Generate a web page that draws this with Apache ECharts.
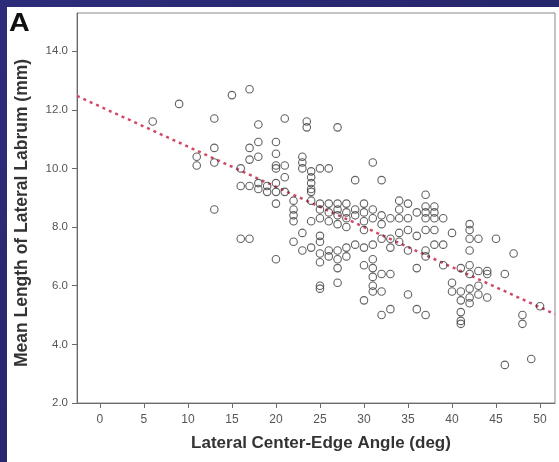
<!DOCTYPE html>
<html>
<head>
<meta charset="utf-8">
<script src="https://cdn.jsdelivr.net/npm/echarts@6/dist/echarts.min.js"></script>
<style>
  html, body { margin: 0; padding: 0; }
  #wrap { position: relative; width: 559px; height: 462px; background: linear-gradient(135deg, #2d2c7a 0%, #25256a 60%, #2b2a74 100%); overflow: hidden; }
  #panel { position: absolute; left: 7px; top: 7px; width: 552px; height: 455px; background: #ffffff; }
  #chart { position: absolute; left: 0; top: 0; width: 559px; height: 462px; }
</style>
</head>
<body>
<div id="wrap"><div id="panel"></div><div id="chart"></div></div>
<script>
// Lateral center-edge angle (deg) for each subject
const angle = [
  6, 9, 11, 11,
  13, 13, 13, 13,
  15,
  16, 16, 16,
  17, 17, 17, 17, 17,
  18, 18, 18, 18, 18,
  19, 19,
  20, 20, 20, 20, 20, 20, 20, 20,
  21, 21, 21, 21,
  22, 22, 22, 22, 22,
  23, 23, 23, 23, 23,
  23.5, 23.5,
  24, 24, 24, 24, 24, 24, 24, 24,
  25, 25, 25, 25, 25, 25, 25, 25, 25, 25,
  26, 26, 26, 26, 26, 26,
  27, 27, 27, 27, 27, 27, 27, 27, 27,
  28, 28, 28, 28, 28, 28,
  29, 29, 29, 29,
  30, 30, 30, 30, 30, 30, 30,
  31, 31, 31, 31, 31, 31, 31, 31, 31,
  32, 32, 32, 32, 32, 32, 32,
  33, 33, 33, 33, 33,
  34, 34, 34, 34, 34,
  35, 35, 35, 35, 35,
  36, 36, 36, 36,
  37, 37, 37, 37, 37, 37, 37, 37,
  38, 38, 38, 38, 38,
  39, 39, 39,
  40, 40, 40,
  41, 41, 41, 41, 41, 41,
  42, 42, 42, 42, 42, 42, 42, 42, 42,
  43, 43, 43, 43,
  44, 44, 44,
  45,
  46, 46,
  47,
  48, 48,
  49,
  50
];
// Mean length of lateral labrum (mm) for each subject
const labrum = [
  11.6, 12.2, 10.4, 10.1,
  11.7, 10.7, 10.2, 8.6,
  12.5,
  10.0, 9.4, 7.6,
  12.7, 10.7, 10.3, 9.4, 7.6,
  11.5, 10.9, 10.4, 9.5, 9.3,
  9.4, 9.2,
  10.9, 10.5, 10.1, 10.0, 9.5, 9.2, 8.8, 6.9,
  11.7, 10.1, 9.7, 9.2,
  8.9, 8.6, 8.4, 8.2, 7.5,
  10.4, 10.2, 10.0, 7.8, 7.2,
  11.6, 11.4,
  9.9, 9.7, 9.5, 9.3, 9.2, 8.9, 8.2, 7.3,
  10.0, 8.8, 8.6, 8.3, 7.7, 7.5, 7.1, 6.8, 6.0, 5.9,
  10.0, 8.8, 8.5, 8.2, 7.2, 7.0,
  11.4, 8.8, 8.6, 8.4, 8.1, 7.2, 6.9, 6.6, 6.1,
  8.8, 8.5, 8.3, 8.0, 7.3, 7.0,
  9.6, 8.6, 8.4, 7.4,
  8.8, 8.5, 8.2, 7.9, 7.3, 6.7, 5.5,
  10.2, 8.6, 8.3, 7.4, 6.9, 6.6, 6.3, 6.0, 5.8,
  9.6, 8.4, 8.1, 7.6, 6.4, 5.8, 5.0,
  8.3, 7.6, 7.3, 6.4, 5.2,
  8.9, 8.6, 8.3, 7.8, 7.5,
  8.8, 8.3, 7.9, 7.2, 5.7,
  8.5, 7.7, 6.6, 5.2,
  9.1, 8.7, 8.5, 8.3, 7.9, 7.2, 7.0, 5.0,
  8.7, 8.5, 8.3, 7.9, 7.4,
  8.3, 7.4, 6.7,
  7.8, 6.1, 5.8,
  6.6, 5.8, 5.5, 5.1, 4.8, 4.7,
  8.1, 7.9, 7.6, 7.2, 6.7, 6.4, 5.9, 5.6, 5.4,
  7.6, 6.5, 6.0, 5.7,
  6.5, 6.4, 5.6,
  7.6,
  6.4, 3.3,
  7.1,
  5.0, 4.7,
  3.5,
  5.3
];
// Fitted regression line end points
const fitX = [-2.6, 51.7];
const fitY = [12.47, 5.03];
// Tick labels
const xTicks = [0, 5, 10, 15, 20, 25, 30, 35, 40, 45, 50];
const yTicks = [2, 4, 6, 8, 10, 12, 14];

const FONT = 'Liberation Sans, Arial, Helvetica, sans-serif';
const chart = echarts.init(document.getElementById('chart'), null, { renderer: 'canvas' });

const points = angle.map((a, i) => [a, labrum[i]]);
const fitLine = fitX.map((x, i) => [x, fitY[i]]);

chart.setOption({
  animation: false,
  backgroundColor: 'transparent',
  grid: {
    left: 77, top: 13, right: 4, bottom: 59,
    show: true, borderColor: '#8a8a8a', borderWidth: 1, backgroundColor: 'transparent'
  },
  xAxis: {
    type: 'value',
    min: -2.6, max: 51.7,
    axisLine: { show: true, onZero: false, lineStyle: { color: '#6a6a6a', width: 1 } },
    axisTick: { show: true, inside: false, length: 5, customValues: xTicks, lineStyle: { color: '#6a6a6a' } },
    axisLabel: { customValues: xTicks, margin: 11, color: '#555', fontFamily: FONT, fontSize: 12 },
    splitLine: { show: false }
  },
  yAxis: {
    type: 'value',
    min: 2, max: 15.3,
    axisLine: { show: true, onZero: false, lineStyle: { color: '#6a6a6a', width: 1 } },
    axisTick: { show: true, inside: false, length: 5, customValues: yTicks, lineStyle: { color: '#6a6a6a' } },
    axisLabel: { customValues: yTicks, margin: 9, color: '#555', fontFamily: FONT, fontSize: 11.5,
      formatter: v => Number(v).toFixed(1) },
    splitLine: { show: false }
  },
  series: [
    {
      type: 'scatter',
      data: points,
      symbol: 'circle',
      symbolSize: 7.5,
      itemStyle: { color: 'rgba(255,255,255,0)', borderColor: '#3a3a3a', borderWidth: 1.1 },
      z: 3
    },
    {
      type: 'line',
      data: fitLine,
      showSymbol: false,
      symbol: 'none',
      lineStyle: { color: '#d04a66', width: 2.5, type: [3, 4] },
      z: 2
    }
  ],
  graphic: [
    { type: 'text', x: 9, y: 12, scaleX: 1.15,
      style: { text: 'A', font: 'bold 25px ' + FONT, fill: '#111', align: 'left', verticalAlign: 'top' } },
    { type: 'text', x: 321, y: 443,
      style: { text: 'Lateral Center-Edge Angle (deg)', font: 'bold 17px ' + FONT, fill: '#333', align: 'center', verticalAlign: 'middle' } },
    { type: 'text', x: 22, y: 213, rotation: Math.PI / 2,
      style: { text: 'Mean Length of Lateral Labrum (mm)', font: 'bold 17.5px ' + FONT, fill: '#333', align: 'center', verticalAlign: 'middle' } }
  ]
});
</script>
</body>
</html>
